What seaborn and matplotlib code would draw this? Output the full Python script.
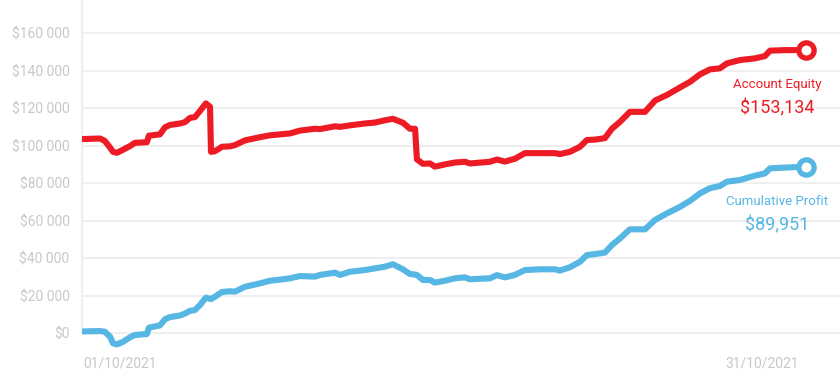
import numpy as np
import pandas as pd
import matplotlib
matplotlib.use('Agg')
import matplotlib.pyplot as plt
import seaborn as sns

#dados (dia de outubro, milhares de $)

days = [1.00, 1.73, 1.94, 2.16, 2.29, 2.46, 2.72, 3.02, 3.23, 3.74, 3.83, 4.30, 4.52, 4.73,
        5.16, 5.37, 5.59, 5.80, 6.02, 6.27, 6.45, 6.49, 6.66, 6.96, 7.30, 7.52, 7.95, 8.59,
        9.02, 9.45, 9.88, 10.30, 10.95, 11.16, 11.81, 12.02, 12.45, 13.09, 13.52, 13.95,
        14.29, 14.72, 15.02, 15.24, 15.32, 15.58, 15.88, 16.09, 16.52, 16.95, 17.38, 17.59,
        18.45, 18.75, 19.09, 19.52, 19.95, 20.60, 21.24, 21.45, 21.88, 22.31, 22.61, 22.95,
        23.38, 23.68, 24.03, 24.45, 25.10, 25.53, 26.04, 26.60, 27.03, 27.46, 27.88, 28.31,
        28.61, 29.17, 29.81, 30.24, 30.46, 31.10, 32.00]

equity = [103.5, 103.8, 102.5, 99.0, 96.7, 96.2, 97.8, 99.8, 101.5, 101.8, 105.3, 106.0, 109.8,
          111.0, 111.8, 112.5, 114.8, 115.2, 118.5, 122.5, 120.7, 96.7, 97.0, 99.4, 99.6, 100.3,
          102.8, 104.5, 105.5, 106.0, 106.5, 108.0, 109.0, 108.8, 110.3, 110.0, 110.8, 111.8,
          112.3, 113.5, 114.3, 112.2, 109.0, 109.0, 92.7, 90.3, 90.5, 88.8, 90.0, 91.0, 91.4,
          90.5, 91.4, 92.6, 91.5, 93.0, 96.0, 96.0, 96.0, 95.5, 96.7, 99.4, 103.0, 103.2, 104.0,
          109.0, 112.7, 118.0, 118.0, 124.0, 127.0, 131.0, 134.0, 138.0, 140.6, 141.2, 143.8,
          145.6, 146.5, 147.7, 150.6, 150.9, 150.9]

profit = [1.0, 1.2, 0.8, -1.8, -5.3, -5.9, -4.5, -2.1, -0.9, -0.4, 3.0, 4.2, 7.5, 8.6, 9.5,
          10.5, 12.0, 12.4, 15.1, 19.0, 18.4, 18.2, 19.5, 22.0, 22.4, 22.2, 24.8, 26.6, 28.0,
          28.6, 29.3, 30.5, 30.2, 31.1, 32.3, 31.1, 32.8, 33.7, 34.6, 35.5, 36.8, 34.1, 31.6,
          31.3, 31.1, 28.4, 28.4, 27.0, 28.0, 29.3, 29.8, 28.8, 29.3, 31.0, 29.8, 31.1, 33.7,
          34.1, 34.1, 33.4, 35.2, 38.1, 41.7, 42.2, 43.0, 47.0, 50.6, 55.4, 55.4, 60.4, 63.9,
          67.4, 70.6, 74.6, 77.3, 78.5, 80.8, 81.7, 84.0, 85.2, 87.9, 88.3, 88.8]

final_equity = 153134
final_profit = 89951

yticks = [0, 20000, 40000, 60000, 80000, 100000, 120000, 140000, 160000]
xtick_labels = ['01/10/2021', '31/10/2021']

df = pd.DataFrame({'dia': days,
                   'equity': np.array(equity) * 1000,
                   'profit': np.array(profit) * 1000})

#estilo

sns.set_style('white')
plt.rcParams['font.family'] = ['Roboto', 'DejaVu Sans']

red = '#ED1C24'
blue = '#56B6E4'
cinza = '#C8C8C8'
grade = '#EFEFEF'

fig = plt.figure(figsize=(8.4, 3.83), dpi=100)
ax = fig.add_axes([82/840, 33/383, 1 - 82/840, 1 - 33/383])

for col, cor in [('equity', red), ('profit', blue)]:
	sns.lineplot(data=df, x='dia', y=col, color=cor, linewidth=4.4, ax=ax,
	             solid_joinstyle='round', solid_capstyle='round', zorder=3)
	ax.plot(df['dia'].iloc[-1], df[col].iloc[-1], 'o', ms=11, mfc='white', mec=cor,
	        mew=3.8, zorder=4)

#rótulos finais

for col, cor, nome, valor in [('equity', red, 'Account Equity', final_equity),
                              ('profit', blue, 'Cumulative Profit', final_profit)]:
	xy = (df['dia'].iloc[-1], df[col].iloc[-1])
	ax.annotate(nome, xy=xy, xytext=(-21, -25), textcoords='offset points',
	            ha='center', va='center', color=cor, fontsize=9.5)
	ax.annotate('${:,}'.format(valor), xy=xy, xytext=(-21, -42), textcoords='offset points',
	            ha='center', va='center', color=cor, fontsize=13)

#eixos

ax.set_xlim(0.96, 33.46)
ax.set_ylim(-8900, 177600)

ax.set_yticks(yticks)
ax.set_yticklabels(['$' + '{:,}'.format(v).replace(',', ' ') for v in yticks])
ax.set_xticks([1.0, 30.1])
ax.set_xticklabels(xtick_labels)
ax.get_xticklabels()[0].set_horizontalalignment('left')

ax.tick_params(axis='both', length=0, labelsize=10, labelcolor=cinza)
ax.tick_params(axis='y', pad=9)
ax.tick_params(axis='x', pad=5)

ax.grid(axis='y', color=grade, linewidth=1.5, zorder=0)
ax.set_axisbelow(True)
for s in ['top', 'right', 'bottom']:
	ax.spines[s].set_visible(False)
ax.spines['left'].set_color(grade)
ax.spines['left'].set_linewidth(1.5)
ax.spines['left'].set_bounds(0, 177600)

ax.set_xlabel('')
ax.set_ylabel('')

fig.savefig('out.png', dpi=100)
